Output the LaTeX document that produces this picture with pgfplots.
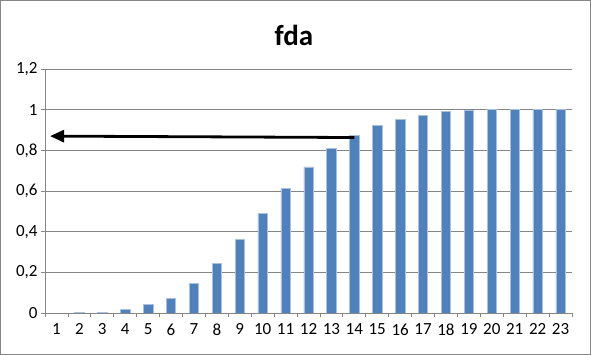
\documentclass[border=0pt]{standalone}
\usepackage{pgfplots}
\pgfplotsset{compat=1.18}
\usepackage{fontspec}
\setmainfont{Carlito}
\usetikzlibrary{arrows.meta}
\definecolor{barblue}{HTML}{4F81BD}
\definecolor{baredge}{HTML}{A9C0DE}
\definecolor{gridgray}{HTML}{868686}
\begin{document}
\begin{tikzpicture}
\useasboundingbox (0,0) rectangle (591bp,355bp);
\draw[gridgray, line width=1bp] (0.5bp,0.5bp) rectangle (590.5bp,354.5bp);
\node[font=\fontsize{29bp}{29bp}\selectfont\bfseries] at (294bp,320bp) {fda};
\begin{axis}[
  at={(45bp,42bp)}, anchor=south west,
  scale only axis, width=527bp, height=244bp,
  xmin=0.5, xmax=23.5, ymin=0, ymax=1.2,
  axis x line*=bottom, axis y line*=left,
  axis line style={gridgray, line width=0.8bp, -},
  ytick={0,0.2,...,1.2},
  ymajorgrids, grid style={gridgray, line width=0.8bp},
  tick align=outside, major tick length=4bp,
  tick style={gridgray, line width=0.8bp},
  xtick={1,...,23},
  xtick style={draw=none},
  extra x ticks={0.5,1.5,...,23.5},
  extra x tick labels={},
  extra x tick style={xtick style={draw=gridgray, line width=0.8bp}},
  ticklabel style={font=\fontsize{17bp}{17bp}\selectfont, text=black},
  /pgf/number format/assume math mode=true,
  /pgf/number format/use comma,
  yticklabel style={/pgf/number format/fixed, /pgf/number format/precision=1},
  xticklabel style={yshift=-3bp},
]
\addplot[ybar, bar width=0.41, fill=barblue, draw=baredge, line width=0.6bp] coordinates {
(1,0) (2,0.003) (3,0.004) (4,0.018) (5,0.043) (6,0.073) (7,0.144) (8,0.243)
(9,0.363) (10,0.491) (11,0.611) (12,0.719) (13,0.809) (14,0.875) (15,0.924)
(16,0.954) (17,0.972) (18,0.991) (19,0.998) (20,1.0) (21,1.0) (22,1.0) (23,1.0)
};
\draw[-{Triangle[length=14bp,width=12bp]}, line width=2.8bp, black] (axis cs:14,0.863) -- (axis cs:0.72,0.870);
\end{axis}
\end{tikzpicture}
\end{document}
